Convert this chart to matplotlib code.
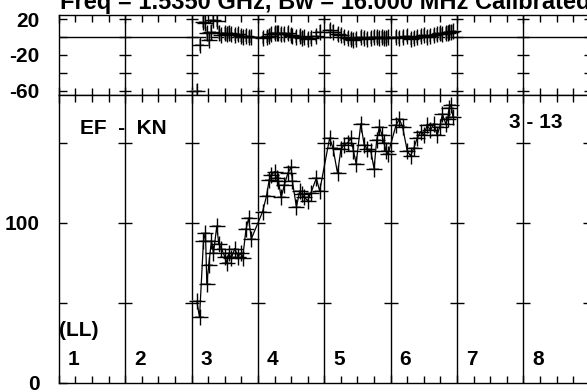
import matplotlib
matplotlib.use('Agg')
import matplotlib.pyplot as plt
from matplotlib.ticker import MultipleLocator

plt.rcParams['font.family'] = ['Liberation Sans', 'DejaVu Sans']
plt.rcParams['font.weight'] = 'bold'

title = 'Freq = 1.5350 GHz, Bw = 16.000 MHz Calibrated'
baseline = 'EF  -  KN'
scan_label = '3 - 13'
stokes = '(LL)'
col_labels = ['1', '2', '3', '4', '5', '6', '7', '8']

# time axis in plot columns, one sample per point
t = [2.08, 2.12, 2.18, 2.21, 2.23, 2.26, 2.30, 2.33, 2.38, 2.41, 2.45,
     2.50, 2.53, 2.56, 2.60, 2.65, 2.70, 2.74, 2.77, 2.82, 2.86, 2.90,
     3.07, 3.13, 3.17, 3.20, 3.25, 3.28, 3.31, 3.35, 3.40, 3.45, 3.50,
     3.52, 3.58, 3.63, 3.66, 3.70, 3.75, 3.80, 3.88, 3.93,
     4.08, 4.13, 4.20, 4.25, 4.30, 4.35, 4.40, 4.44, 4.48, 4.55, 4.60,
     4.65, 4.70, 4.75, 4.79, 4.83, 4.87, 4.90, 4.93, 4.96,
     5.08, 5.13, 5.18, 5.25, 5.30, 5.35, 5.40, 5.45, 5.50, 5.55, 5.60,
     5.65, 5.70, 5.74, 5.78, 5.83, 5.86, 5.88, 5.91, 5.94]

amp = [51, 41, 89, 94, 62, 74, 89, 81, 98, 87, 84,
       79, 75, 81, 78, 84, 79, 81, 78, 96, 103, 90,
       107, 117, 127, 130, 132, 128, 126, 116, 124, 131, 135,
       126, 110, 120, 118, 116, 114, 119, 128, 120,
       153, 147, 131, 146, 149, 150, 153, 145, 137, 162, 149,
       146, 145, 134, 152, 160, 155, 150, 145, 143,
       161, 165, 160, 145, 142, 147, 153, 157, 155, 161, 158,
       162, 155, 160, 168, 162, 165, 172, 174, 166]

phase = [-60, -9, 17, 16, 4, -3, 6, 19, 18, 5, 2,
         4, 3, 5, 3, 2, 3, 1, 0, 1, 0, 0,
         -1, 0, 1, 3, 4, 5, 4, 3, 3, 4, 2,
         1, 0, 1, -1, 0, -2, -1, 1, 6,
         8, 6, 3, 2, 0, -1, -2, -3, -2, 0, -1,
         -2, -1, 0, 0, -1, 0, -1, -1, 0,
         0, -1, 0, 1, -2, -1, 0, 1, 2, 0, 1,
         2, 3, 4, 3, 4, 5, 6, 6, 7]

phase_err = 7
t_err = 0.07

fig = plt.figure(figsize=(5.87, 3.92), dpi=100)
ax1 = fig.add_axes([0.1002, 0.7577, 0.9045, 0.2048])
ax2 = fig.add_axes([0.1002, 0.023, 0.9045, 0.7347])

for ax in (ax1, ax2):
    ax.set_xlim(0, 8)
    ax.xaxis.set_major_locator(MultipleLocator(1))
    ax.xaxis.set_minor_locator(MultipleLocator(0.25))
    ax.tick_params(axis='x', which='both', direction='in', top=True, bottom=True,
                   labelbottom=False, width=1)
    ax.tick_params(axis='x', which='major', length=6)
    ax.tick_params(axis='x', which='minor', length=5)
    ax.tick_params(axis='y', which='both', direction='in', length=6, width=1,
                   labelsize=15, pad=14)
    for i in range(1, 9):
        ax.axvline(i, color='black', lw=1, zorder=1)
    for s in ax.spines.values():
        s.set_linewidth(1)
    ax.spines['right'].set_visible(False)

# phase panel
ax1.set_ylim(-65, 25)
yt1 = [20, 0, -20, -40, -60]
ax1.set_yticks(yt1)
ax1.set_yticklabels(['20', '', '-20', '', '-60'])
ax1.axhline(0, color='black', lw=1, zorder=1)
for i in range(1, 9):
    ax1.plot([i] * len(yt1), yt1, ls='none', marker='_', ms=9, mew=1, color='black')
ax1.errorbar(t, phase, yerr=phase_err, xerr=t_err, fmt='none', ecolor='#808080',
             elinewidth=1.2, zorder=2)
ax1.plot(t, phase, ls='none', marker='+', ms=11, mew=1, color='black', zorder=3)

# amplitude panel
ax2.set_ylim(0, 180)
yt2 = [0, 50, 100, 150]
ax2.set_yticks(yt2)
ax2.set_yticklabels(['0', '', '100', ''])
for i in range(1, 9):
    ax2.plot([i] * 3, yt2[1:], ls='none', marker='_', ms=10, mew=1, color='black')
ax2.errorbar(t, amp, xerr=t_err, fmt='none', ecolor='#808080', elinewidth=1.2, zorder=2)
ax2.plot(t, amp, color='black', lw=0.9, marker='+', ms=11, mew=1, zorder=3)

for lab in ax1.get_yticklabels() + ax2.get_yticklabels():
    lab.set_fontweight('bold')

ax2.text(0.32, 159, baseline, fontsize=15, fontweight='bold', va='center')
ax2.text(6.78, 163, scan_label, fontsize=15, fontweight='bold', va='center')
ax2.text(0.0, 33, stokes, fontsize=15, fontweight='bold', va='center', ha='left')
for i, lab in enumerate(col_labels):
    ax2.text(i + 0.13, 14.5, lab, fontsize=15, fontweight='bold', va='center')

fig.text(0.102, 0.977, title, fontsize=17, fontweight='bold', ha='left', va='baseline')

fig.savefig('out.png', dpi=100)
